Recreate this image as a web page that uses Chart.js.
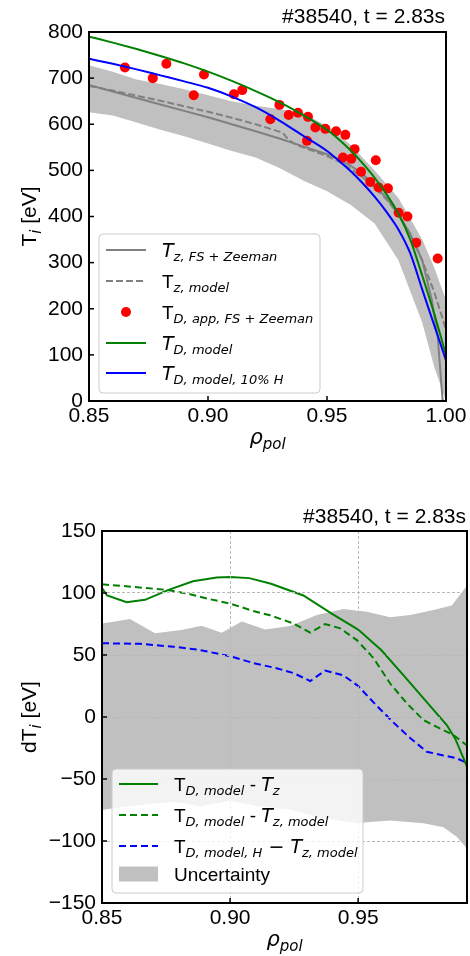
<!DOCTYPE html>
<html>
<head>
<meta charset="utf-8">
<script src="https://cdn.jsdelivr.net/npm/chart.js@4.4.1/dist/chart.umd.min.js"></script>
<style>
  html, body { margin: 0; padding: 0; background: #fff; }
  canvas { display: block; }
</style>
</head>
<body>
<canvas id="tiChart" width="470" height="470"></canvas>
<canvas id="dtChart" width="470" height="486"></canvas>
<script>
// ---------- top panel: T_i profiles ----------
const rhoModel = [0.85, 0.86, 0.87, 0.88, 0.89, 0.90, 0.91, 0.92, 0.93, 0.94, 0.95, 0.955, 0.96, 0.965, 0.97, 0.975, 0.98, 0.985, 0.99, 0.995, 1.00];
const tdModel  = [790, 777, 763, 748, 732, 714, 694, 672, 648, 620, 588, 567, 543, 515, 484, 448, 406, 350, 272, 190, 100];
const tdModelH = [742, 731, 719, 706, 693, 679, 660, 637, 608, 575, 542, 521, 498, 472, 443, 410, 372, 320, 242, 165, 88];

const rhoTzFs = [0.85, 0.86, 0.87, 0.88, 0.89, 0.90, 0.91, 0.92, 0.93, 0.94, 0.95, 0.955, 0.96, 0.965, 0.97, 0.975, 0.98, 0.985, 0.99, 0.994, 0.9965, 0.9986];
const tzFs    = [685, 671, 657, 643, 629, 615, 600, 585, 569, 552, 535, 524, 510, 492, 468, 440, 405, 362, 305, 220, 140, 0];

const rhoTzModel = [0.85, 0.86, 0.87, 0.88, 0.89, 0.90, 0.91, 0.92, 0.93, 0.9315, 0.9335, 0.9365, 0.94, 0.95, 0.955, 0.96, 0.965, 0.97, 0.975, 0.98, 0.985, 0.99, 0.995, 1.00];
const tzModel    = [683, 673, 662, 651, 639, 627, 614, 600, 584, 581, 568, 557, 550, 531, 519, 503, 485, 463, 437, 405, 362, 305, 237, 155];

const rhoBandTop = [0.85, 0.86, 0.87, 0.88, 0.89, 0.90, 0.91, 0.92, 0.93, 0.94, 0.95, 0.96, 0.97, 0.98, 0.99, 0.995, 1.00];
const bandTopHi  = [728, 714, 697, 687, 676, 663, 650, 640, 633, 624, 596, 555, 500, 440, 350, 290, 219];
const bandTopLo  = [626, 619, 604, 588, 574, 558, 542, 528, 505, 478, 455, 425, 385, 305, 170, 75, 0];

// T_D,app (FS + Zeeman) measurements
const rhoMeas = [0.8651, 0.8768, 0.8825, 0.8940, 0.8983, 0.9109, 0.9144, 0.9262, 0.9300, 0.9339, 0.9378, 0.9420, 0.9416, 0.9451, 0.9493,
                 0.9538, 0.9577, 0.9567, 0.9602, 0.9616, 0.9643, 0.9705, 0.9682, 0.9717, 0.9756, 0.9801, 0.9838, 0.9875, 0.9965];
const tdApp   = [723, 700, 731, 663, 708, 665, 674, 611, 642, 620, 625, 616, 564, 593, 590,
                 585, 577, 528, 525, 546, 497, 522, 475, 463, 461, 408, 400, 343, 309];

const xTicksTop = [0.85, 0.90, 0.95, 1.00];

// ---------- bottom panel: differences ----------
const rhoDtFs = [0.85, 0.852, 0.8596, 0.8668, 0.876, 0.8855, 0.8948, 0.90, 0.9075, 0.916, 0.9286, 0.94, 0.95, 0.959, 0.968, 0.9768, 0.9846, 0.9879, 0.9925];
const dtFs    = [104, 98, 92.5, 94.5, 102.5, 109.5, 112.5, 113, 112, 107.5, 98, 83, 70.5, 54, 33, 12, -6.5, -17.5, -40];

const rhoDtModel = [0.85, 0.862, 0.8753, 0.8844, 0.891, 0.90, 0.9091, 0.9156, 0.9247, 0.9313, 0.9371, 0.943, 0.9495, 0.956, 0.9625, 0.969, 0.9755, 0.9807, 0.9872, 0.9925];
const dtModel    = [107, 105, 102.5, 99, 95.5, 91.5, 85.5, 82, 75.5, 68, 75, 71.5, 62, 47.5, 27, 11, -2.5, -8, -14.5, -23];

const rhoDtH = [0.85, 0.8648, 0.8779, 0.8883, 0.90, 0.9091, 0.9182, 0.9247, 0.9313, 0.9371, 0.9443, 0.95, 0.9573, 0.9638, 0.9703, 0.9768, 0.9833, 0.9885, 0.9925];
const dtH    = [59.5, 59, 56.7, 54, 49, 43.5, 39.3, 35.5, 29, 37.4, 33.5, 25, 9, -4.5, -17, -28, -31, -33.3, -37];

const rhoUncHi = [0.85, 0.8551, 0.8609, 0.8707, 0.881, 0.8889, 0.8967, 0.9046, 0.9137, 0.9234, 0.9339, 0.9443, 0.9534, 0.9625, 0.9703, 0.9794, 0.9866, 0.9925];
const uncHi    = [75.5, 77, 79, 67.5, 70.2, 73.5, 68, 77, 70.5, 73.4, 82.3, 87, 84.9, 80.4, 82.3, 86.3, 90, 106];
const rhoUncLo = [0.85, 0.8577, 0.8668, 0.8779, 0.8883, 0.90, 0.9104, 0.9234, 0.9365, 0.9495, 0.9625, 0.9755, 0.9833, 0.9885, 0.9925];
const uncLo    = [-75, -72.5, -70.5, -68.3, -72, -67.5, -71.8, -74.5, -81.7, -85.5, -83.5, -85.7, -89, -96.5, -106];

const xTicksBottom = [0.85, 0.90, 0.95];

// ---------- styles ----------
const FONT = '"Liberation Sans", Arial, sans-serif';
const MATH = '"DejaVu Sans", sans-serif';
const GRAY = '#808080', SILVER = '#c0c0c0', GREEN = '#008000', BLUE = '#0000ff', RED = '#ff0000';

const pts = (xs, ys) => xs.map((x, i) => ({ x, y: ys[i] }));

// text runs: [text, style] -> r regular, i math italic, m math upright, s italic subscript
function runFont(style, size) {
  const sub = Math.round(size * 0.7);
  if (style === 'i') return `italic ${size}px ${MATH}`;
  if (style === 'm') return `${size}px ${MATH}`;
  if (style === 's') return `italic ${sub}px ${MATH}`;
  return `${size}px ${FONT}`;
}
function runsWidth(ctx, runs, size) {
  let w = 0;
  runs.forEach(([t, s]) => { ctx.font = runFont(s, size); w += ctx.measureText(t).width; });
  return w;
}
function drawRuns(ctx, runs, x, y, size) {
  ctx.textAlign = 'left';
  ctx.textBaseline = 'alphabetic';
  ctx.fillStyle = '#000';
  runs.forEach(([t, s]) => {
    ctx.font = runFont(s, size);
    ctx.fillText(t, x, s === 's' ? y + size * 0.22 : y);
    x += ctx.measureText(t).width;
  });
}

function drawLegend(ctx, lg) {
  ctx.save();
  ctx.beginPath();
  ctx.roundRect(lg.x, lg.y, lg.w, lg.h, 4);
  ctx.fillStyle = 'rgba(255,255,255,0.8)';
  ctx.fill();
  ctx.strokeStyle = '#cccccc';
  ctx.lineWidth = 1;
  ctx.stroke();
  lg.items.forEach((it, i) => {
    const y = lg.rowY[i];
    const x0 = lg.sampleX, x1 = lg.sampleX + lg.sampleW;
    if (it.kind === 'line') {
      ctx.setLineDash(it.dash || []);
      ctx.strokeStyle = it.color;
      ctx.lineWidth = it.width;
      ctx.beginPath(); ctx.moveTo(x0, y); ctx.lineTo(x1, y); ctx.stroke();
      ctx.setLineDash([]);
    } else if (it.kind === 'dot') {
      ctx.fillStyle = it.color;
      ctx.beginPath(); ctx.arc((x0 + x1) / 2, y, 5, 0, 2 * Math.PI); ctx.fill();
    } else {
      ctx.fillStyle = it.color;
      ctx.fillRect(x0, y - 7.5, x1 - x0, 15);
    }
    drawRuns(ctx, it.label, lg.textX, y + lg.baseOff, lg.size);
  });
  ctx.restore();
}

// frame, inward ticks, legend, titles and axis labels
function makeDecor(cfg) {
  return {
    id: 'decor',
    afterDraw(chart) {
      const { ctx, chartArea: a, scales } = chart;
      ctx.save();
      ctx.strokeStyle = '#000';
      ctx.lineWidth = 1.5;
      scales.y.ticks.forEach(t => {
        const y = scales.y.getPixelForValue(t.value);
        ctx.beginPath(); ctx.moveTo(a.left, y); ctx.lineTo(a.left + 5, y); ctx.stroke();
      });
      scales.x.ticks.forEach(t => {
        const x = scales.x.getPixelForValue(t.value);
        ctx.beginPath(); ctx.moveTo(x, a.bottom); ctx.lineTo(x, a.bottom - 5); ctx.stroke();
      });
      ctx.lineWidth = 2;
      ctx.strokeRect(a.left, a.top, a.right - a.left, a.bottom - a.top);

      drawLegend(ctx, cfg.legend);

      // title
      ctx.font = `21px ${FONT}`;
      ctx.fillStyle = '#000';
      ctx.textAlign = 'right';
      ctx.textBaseline = 'alphabetic';
      ctx.fillText(cfg.title, cfg.titleRight, cfg.titleY);

      // x label
      const xl = [['\u03c1', 'i'], ['pol', 's']];
      const xw = runsWidth(ctx, xl, 21);
      drawRuns(ctx, xl, (a.left + a.right) / 2 - xw / 2, cfg.xLabelY, 21);

      // y label (rotated)
      const yw = runsWidth(ctx, cfg.yLabel, 21);
      ctx.translate(cfg.yLabelX, (a.top + a.bottom) / 2);
      ctx.rotate(-Math.PI / 2);
      drawRuns(ctx, cfg.yLabel, -yw / 2, 0, 21);
      ctx.restore();
    }
  };
}

const tickFont = { family: FONT, size: 21 };
const minus = v => (v < 0 ? '\u2212' + Math.abs(v) : String(v));

// ---------- top chart ----------
new Chart(document.getElementById('tiChart'), {
  type: 'line',
  data: {
    datasets: [
      { data: pts(rhoBandTop, bandTopLo), borderColor: 'rgba(0,0,0,0)', borderWidth: 1, fill: false, order: 10 },
      { data: pts(rhoBandTop, bandTopHi), borderColor: 'rgba(0,0,0,0)', borderWidth: 1, backgroundColor: SILVER, fill: '-1', order: 10 },
      { data: pts(rhoTzFs, tzFs), borderColor: GRAY, borderWidth: 2, order: 6 },
      { data: pts(rhoTzModel, tzModel), borderColor: GRAY, borderWidth: 2, borderDash: [7, 3], order: 5 },
      { type: 'scatter', data: pts(rhoMeas, tdApp), pointRadius: 5, pointBackgroundColor: RED, pointBorderWidth: 0, order: 4 },
      { data: pts(rhoModel, tdModel), borderColor: GREEN, borderWidth: 2, cubicInterpolationMode: 'monotone', order: 3 },
      { data: pts(rhoModel, tdModelH), borderColor: BLUE, borderWidth: 2, cubicInterpolationMode: 'monotone', order: 2 }
    ]
  },
  options: {
    responsive: false,
    animation: false,
    layout: { padding: { left: 0, right: 24, top: 32, bottom: 0 } },
    elements: { point: { radius: 0 }, line: { tension: 0 } },
    plugins: { legend: { display: false }, tooltip: { enabled: false } },
    scales: {
      x: {
        type: 'linear', min: 0.85, max: 1.0,
        afterBuildTicks: s => { s.ticks = xTicksTop.map(v => ({ value: v })); },
        afterFit: s => { s.height = 69; },
        grid: { display: false, drawTicks: false },
        border: { display: false },
        ticks: { padding: 3, font: tickFont, color: '#000', maxRotation: 0, autoSkip: false, callback: v => v.toFixed(2) }
      },
      y: {
        min: 0, max: 800,
        afterFit: s => { s.width = 89; },
        grid: { display: false, drawTicks: false },
        border: { display: false },
        ticks: { stepSize: 100, padding: 6, font: tickFont, color: '#000' }
      }
    }
  },
  plugins: [makeDecor({
    title: '#38540, t = 2.83s', titleRight: 445, titleY: 23,
    xLabelY: 444, yLabelX: 36,
    yLabel: [['T', 'r'], ['i', 's'], [' [eV]', 'r']],
    legend: {
      x: 99, y: 234, w: 221, h: 159, rowY: [250, 281, 312, 343, 373],
      sampleX: 106, sampleW: 40, textX: 162, baseOff: 7, size: 19,
      items: [
        { kind: 'line', color: GRAY, width: 2, label: [['T', 'i'], ['z, FS + Zeeman', 's']] },
        { kind: 'line', color: GRAY, width: 2, dash: [7, 3], label: [['T', 'r'], ['z, model', 's']] },
        { kind: 'dot', color: RED, label: [['T', 'r'], ['D, app, FS + Zeeman', 's']] },
        { kind: 'line', color: GREEN, width: 2, label: [['T', 'i'], ['D, model', 's']] },
        { kind: 'line', color: BLUE, width: 2, label: [['T', 'i'], ['D, model, 10% H', 's']] }
      ]
    }
  })]
});

// ---------- bottom chart ----------
new Chart(document.getElementById('dtChart'), {
  type: 'line',
  data: {
    datasets: [
      { data: pts(rhoUncLo, uncLo), borderColor: 'rgba(0,0,0,0)', borderWidth: 1, fill: false, order: 10 },
      { data: pts(rhoUncHi, uncHi), borderColor: 'rgba(0,0,0,0)', borderWidth: 1, backgroundColor: SILVER, fill: '-1', order: 10 },
      { data: pts(rhoDtH, dtH), borderColor: BLUE, borderWidth: 2, borderDash: [7, 4], order: 4 },
      { data: pts(rhoDtModel, dtModel), borderColor: GREEN, borderWidth: 2, borderDash: [7, 4], order: 3 },
      { data: pts(rhoDtFs, dtFs), borderColor: GREEN, borderWidth: 2, order: 2 }
    ]
  },
  options: {
    responsive: false,
    animation: false,
    layout: { padding: { left: 0, right: 3, top: 61, bottom: 0 } },
    elements: { point: { radius: 0 }, line: { tension: 0 } },
    plugins: { legend: { display: false }, tooltip: { enabled: false } },
    scales: {
      x: {
        type: 'linear', min: 0.85, max: 0.9925,
        afterBuildTicks: s => { s.ticks = xTicksBottom.map(v => ({ value: v })); },
        afterFit: s => { s.height = 53; },
        grid: { display: true, drawTicks: false, color: '#b8b8b8', lineWidth: 1, z: 1 },
        border: { display: false, dash: [3, 2] },
        ticks: { padding: 3, font: tickFont, color: '#000', maxRotation: 0, autoSkip: false, callback: v => v.toFixed(2) }
      },
      y: {
        min: -150, max: 150,
        afterFit: s => { s.width = 102; },
        grid: { display: true, drawTicks: false, color: '#b8b8b8', lineWidth: 1, z: 1 },
        border: { display: false, dash: [3, 2] },
        ticks: { stepSize: 50, padding: 6, font: tickFont, color: '#000', callback: minus }
      }
    }
  },
  plugins: [makeDecor({
    title: '#38540, t = 2.83s', titleRight: 466, titleY: 53,
    xLabelY: 476, yLabelX: 36,
    yLabel: [['dT', 'r'], ['i', 's'], [' [eV]', 'r']],
    legend: {
      x: 112, y: 299, w: 251, h: 124, rowY: [314, 345, 376, 404],
      sampleX: 119, sampleW: 39, textX: 174, baseOff: 7, size: 19,
      items: [
        { kind: 'line', color: GREEN, width: 2, label: [['T', 'r'], ['D, model', 's'], [' - ', 'r'], ['T', 'i'], ['z', 's']] },
        { kind: 'line', color: GREEN, width: 2, dash: [7, 4], label: [['T', 'r'], ['D, model', 's'], [' - ', 'r'], ['T', 'i'], ['z, model', 's']] },
        { kind: 'line', color: BLUE, width: 2, dash: [7, 4], label: [['T', 'r'], ['D, model, H', 's'], [' \u2212 ', 'm'], ['T', 'i'], ['z, model', 's']] },
        { kind: 'patch', color: SILVER, label: [['Uncertainty', 'r']] }
      ]
    }
  })]
});
</script>
</body>
</html>
